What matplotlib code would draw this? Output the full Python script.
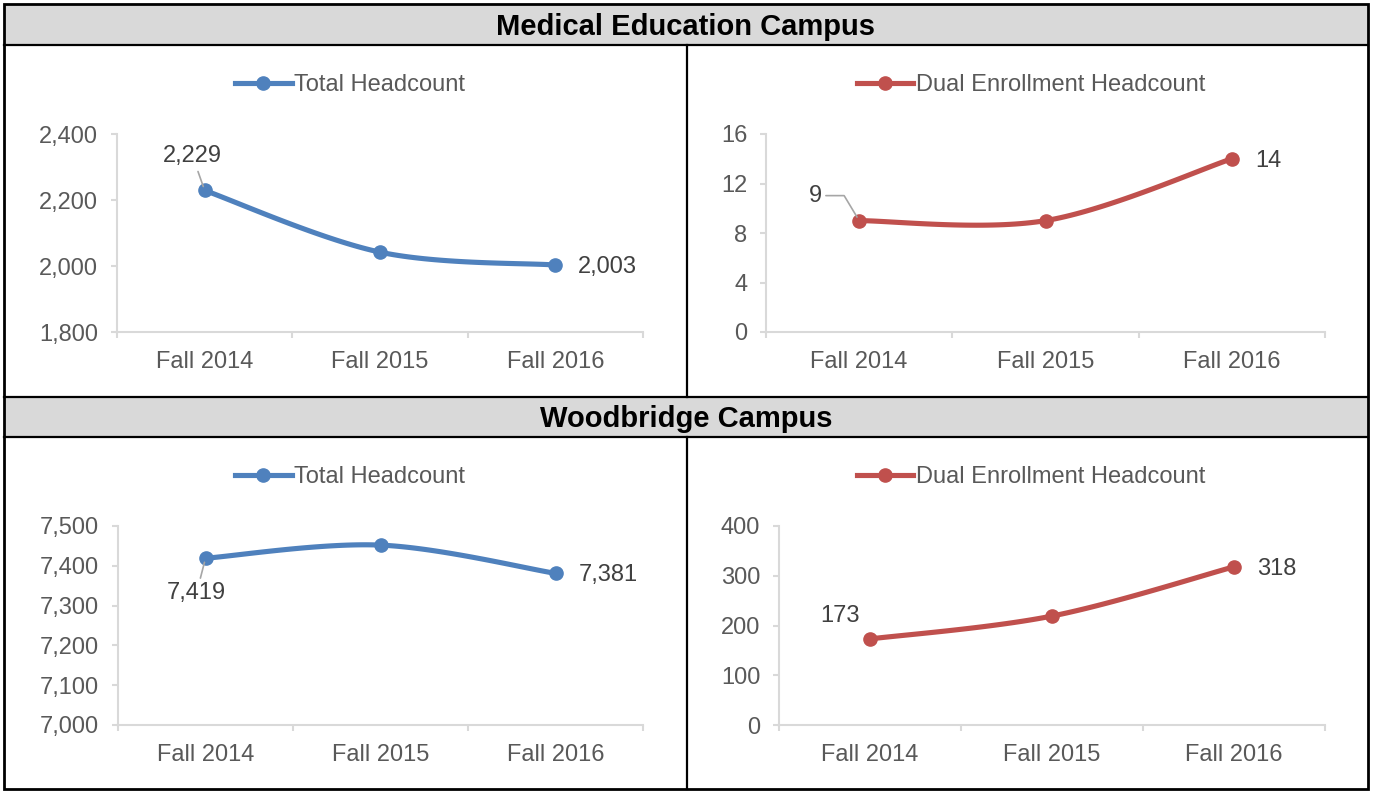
import numpy as np
import matplotlib
matplotlib.use('Agg')
import matplotlib.pyplot as plt
from matplotlib.ticker import FuncFormatter
from matplotlib.lines import Line2D
from matplotlib.patches import Rectangle

plt.rcParams['font.family'] = ['Liberation Sans', 'DejaVu Sans']

# --- data ---
terms = ['Fall 2014', 'Fall 2015', 'Fall 2016']
campuses = ['Medical Education Campus', 'Woodbridge Campus']
series_names = ['Total Headcount', 'Dual Enrollment Headcount']
mec_total = [2229, 2042, 2003]
mec_dual = [9, 9, 14]
wb_total = [7419, 7452, 7381]
wb_dual = [173, 219, 318]

BLUE = '#4F81BD'
RED = '#C0504D'
AXIS = '#D9D9D9'
TICK_TXT = '#595959'
LBL_TXT = '#404040'
LEADER = '#A6A6A6'
LW, MS = 3.7, 9.5

W, H = 1373, 791
fig = plt.figure(figsize=(W / 100, H / 100), dpi=100)


def px_axes(x0, y0, x1, y1):
    return fig.add_axes([x0 / W, 1 - y1 / H, (x1 - x0) / W, (y1 - y0) / H])


def smooth(ys, n=40):
    # excel-like smoothed line (cubic bezier through the points)
    pts = np.column_stack([np.arange(len(ys)), ys]).astype(float)
    out = []
    last = len(pts) - 1
    for i in range(last):
        p0, p1, p2, p3 = pts[max(i - 1, 0)], pts[i], pts[i + 1], pts[min(i + 2, last)]
        c1 = p1 + (p2 - p0) / 6
        c2 = p2 - (p3 - p1) / 6
        t = np.linspace(0, 1, n)[:, None]
        seg = (1 - t) ** 3 * p1 + 3 * (1 - t) ** 2 * t * c1 + 3 * (1 - t) * t ** 2 * c2 + t ** 3 * p2
        out.append(seg if i == 0 else seg[1:])
    return np.vstack(out)


def panel(ax, values, color, ylim, step):
    xy = smooth(values)
    ax.plot(xy[:, 0], xy[:, 1], color=color, lw=LW, solid_capstyle='round', clip_on=False)
    ax.plot(range(len(values)), values, 'o', color=color, ms=MS, clip_on=False)
    ax.set_xlim(-0.5, len(values) - 0.5)
    ax.set_ylim(*ylim)
    ax.set_yticks(np.arange(ylim[0], ylim[1] + step / 2, step))
    ax.yaxis.set_major_formatter(FuncFormatter(lambda v, p: f'{v:,.0f}'))
    ax.set_xticks(range(len(terms)))
    ax.set_xticklabels(terms)
    ax.set_xticks(np.arange(len(terms) + 1) - 0.5, minor=True)
    ax.tick_params(axis='x', which='major', length=0, pad=14, labelsize=17, labelcolor=TICK_TXT)
    ax.tick_params(axis='x', which='minor', length=4.5, width=1.5, color=AXIS)
    ax.tick_params(axis='y', length=4.5, width=1.5, color=AXIS, pad=9, labelsize=17, labelcolor=TICK_TXT)
    for s in ['top', 'right']:
        ax.spines[s].set_visible(False)
    for s in ['left', 'bottom']:
        ax.spines[s].set_color(AXIS)
        ax.spines[s].set_linewidth(1.5)


def label(ax, x, y, text, off, ha='center', leader=None):
    kw = dict(textcoords='offset pixels', ha=ha, va='center', fontsize=17, color=LBL_TXT)
    if leader:
        kw['arrowprops'] = dict(arrowstyle='-', color=LEADER, lw=1.2, shrinkA=1, shrinkB=3,
                                connectionstyle=leader)
    ax.annotate(text, xy=(x, y), xytext=off, **kw)


def legend(name, color, cx, cy):
    h = Line2D([], [], color=color, lw=LW, marker='o', ms=MS)
    fig.legend(handles=[h], labels=[name], loc='center', bbox_to_anchor=(cx / W, 1 - cy / H),
               frameon=False, fontsize=17, handlelength=2.4, handletextpad=0.1,
               labelcolor=TICK_TXT, borderpad=0, borderaxespad=0)


# background frame + headers
bg = fig.add_axes([0, 0, 1, 1], zorder=-1)
bg.set_xlim(0, W)
bg.set_ylim(H, 0)
bg.axis('off')
bg.add_patch(Rectangle((4, 4), 1364, 41, fc='#D9D9D9', ec='none'))
bg.add_patch(Rectangle((4, 397), 1364, 40, fc='#D9D9D9', ec='none'))
bg.add_patch(Rectangle((4, 4), 1364, 785, fc='none', ec='black', lw=2))
for yy in [45, 397, 437]:
    bg.plot([4, 1368], [yy, yy], color='black', lw=1.6)
bg.plot([687, 687], [45, 397], color='black', lw=1.6)
bg.plot([687, 687], [437, 789], color='black', lw=1.6)
bg.text(686, 27, campuses[0], ha='center', va='center', fontsize=21, fontweight='bold')
bg.text(686, 419, campuses[1], ha='center', va='center', fontsize=21, fontweight='bold')

# Medical Education Campus
ax1 = px_axes(117, 134, 643, 332)
panel(ax1, mec_total, BLUE, (1800, 2400), 200)
label(ax1, 0, mec_total[0], f'{mec_total[0]:,}', (-12, 34), leader='arc3')
label(ax1, 2, mec_total[2], f'{mec_total[2]:,}', (23, -2), ha='left')
legend(series_names[0], BLUE, 350, 85)

ax2 = px_axes(766, 134, 1325, 332)
panel(ax2, mec_dual, RED, (0, 16), 4)
label(ax2, 0, mec_dual[0], f'{mec_dual[0]:,}', (-44, 25),
      leader='angle,angleA=0,angleB=121,rad=0')
label(ax2, 2, mec_dual[2], f'{mec_dual[2]:,}', (23, -2), ha='left')
legend(series_names[1], RED, 1031, 85)

# Woodbridge Campus
ax3 = px_axes(118, 526, 643, 725)
panel(ax3, wb_total, BLUE, (7000, 7500), 100)
label(ax3, 0, wb_total[0], f'{wb_total[0]:,}', (-9, -35), leader='arc3')
label(ax3, 2, wb_total[2], f'{wb_total[2]:,}', (23, -2), ha='left')
legend(series_names[0], BLUE, 350, 477)

ax4 = px_axes(779, 526, 1325, 725)
panel(ax4, wb_dual, RED, (0, 400), 100)
label(ax4, 0, wb_dual[0], f'{wb_dual[0]:,}', (-30, 23))
label(ax4, 2, wb_dual[2], f'{wb_dual[2]:,}', (23, -2), ha='left')
legend(series_names[1], RED, 1031, 477)

fig.savefig('out.png', dpi=100)
